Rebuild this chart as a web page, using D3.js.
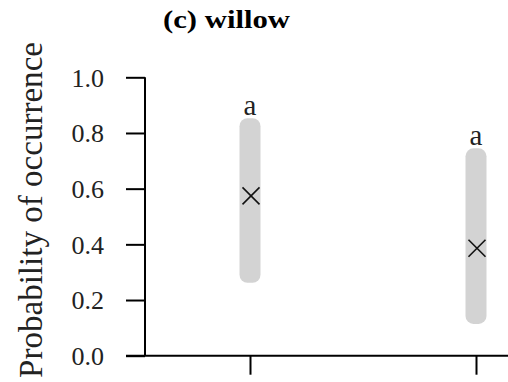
<!DOCTYPE html>
<html>
<head>
<meta charset="utf-8">
<script src="https://cdn.jsdelivr.net/npm/d3@7"></script>
<style>
  html, body { margin: 0; padding: 0; background: #fff; }
  svg { display: block; }
</style>
</head>
<body>
<svg id="chart" width="508" height="382"></svg>
<script>
const categories = ["group 1", "group 2"];
const upperValues = [0.853, 0.745];
const lowerValues = [0.262, 0.114];
const meanValues = [0.574, 0.386];
const letterLabels = ["a", "a"];
const yTickValues = [0.0, 0.2, 0.4, 0.6, 0.8, 1.0];
const titleText = "(c) willow";
const yLabelText = "Probability of occurrence";

const svg = d3.select("#chart");
const serif = "'Liberation Serif', 'Times New Roman', serif";

const y = d3.scaleLinear().domain([0, 1]).range([355.7, 77.3]);
const x = d3.scalePoint().domain(categories).range([250, 476]);

// Title
svg.append("text")
  .attr("x", 163).attr("y", 28)
  .attr("font-family", serif).attr("font-weight", "bold").attr("font-size", 25)
  .attr("textLength", 127).attr("lengthAdjust", "spacingAndGlyphs")
  .attr("fill", "#000")
  .text(titleText);

// Y label
svg.append("text")
  .attr("transform", "translate(42,210) rotate(-90)")
  .attr("text-anchor", "middle")
  .attr("font-family", serif).attr("font-size", 33)
  .attr("textLength", 336).attr("lengthAdjust", "spacingAndGlyphs")
  .attr("fill", "#222")
  .text(yLabelText);

// Y axis
const yAxis = d3.axisLeft(y).tickValues(yTickValues).tickFormat(d3.format(".1f"))
  .tickSize(19).tickPadding(22);
const gy = svg.append("g").attr("transform", "translate(145,0)").call(yAxis);
gy.select(".domain").remove();
gy.selectAll(".tick line").attr("stroke", "#000").attr("stroke-width", 2);
gy.selectAll(".tick text")
  .attr("font-family", serif).attr("font-size", 26).attr("fill", "#222")
  .attr("dy", "0.34em");
svg.append("line")
  .attr("x1", 145).attr("x2", 145).attr("y1", y(1)).attr("y2", y(0))
  .attr("stroke", "#000").attr("stroke-width", 2);

// X axis
const xAxis = d3.axisBottom(x).tickSize(19).tickFormat(() => "");
const gx = svg.append("g").attr("transform", `translate(0,${y(0)})`).call(xAxis);
gx.select(".domain").remove();
gx.selectAll(".tick line").attr("stroke", "#000").attr("stroke-width", 2);
svg.append("line")
  .attr("x1", 126).attr("x2", 508).attr("y1", y(0)).attr("y2", y(0))
  .attr("stroke", "#000").attr("stroke-width", 2);

// Bars (intervals)
const barW = 21;
svg.append("g").selectAll("rect").data(categories).join("rect")
  .attr("x", d => x(d) - barW / 2)
  .attr("width", barW)
  .attr("y", (d, i) => y(upperValues[i]))
  .attr("height", (d, i) => y(lowerValues[i]) - y(upperValues[i]))
  .attr("rx", 8).attr("ry", 8)
  .attr("fill", "#d3d3d3");

// Mean markers (X)
const m = 8.5;
const mg = svg.append("g").attr("stroke", "#111").attr("stroke-width", 1.6);
categories.forEach((c, i) => {
  const cx = x(c) + 1, cy = y(meanValues[i]);
  mg.append("line").attr("x1", cx - m).attr("y1", cy - m).attr("x2", cx + m).attr("y2", cy + m);
  mg.append("line").attr("x1", cx - m).attr("y1", cy + m).attr("x2", cx + m).attr("y2", cy - m);
});

// Letters
svg.append("g").selectAll("text").data(categories).join("text")
  .attr("x", d => x(d))
  .attr("y", (d, i) => y(upperValues[i]) - 3)
  .attr("text-anchor", "middle")
  .attr("font-family", serif).attr("font-size", 29).attr("fill", "#222")
  .text((d, i) => letterLabels[i]);
</script>
</body>
</html>
